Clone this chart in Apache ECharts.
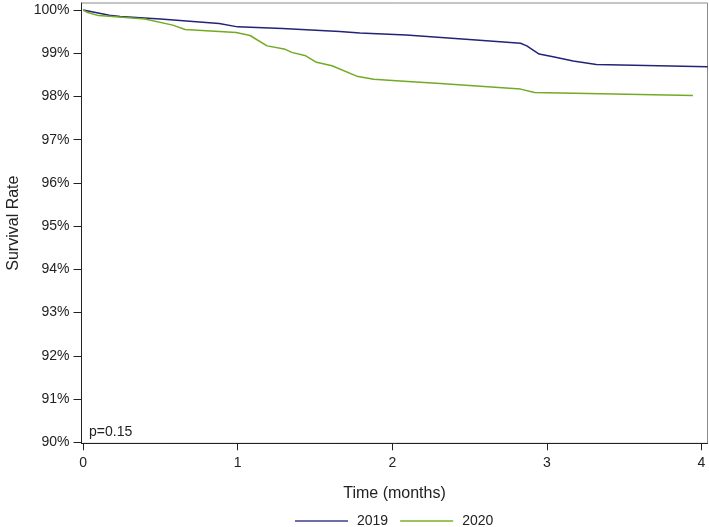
<!DOCTYPE html>
<html>
<head>
<meta charset="utf-8">
<script src="https://cdn.jsdelivr.net/npm/echarts@6/dist/echarts.min.js"></script>
<style>
html,body{margin:0;padding:0;background:#fff;}
#chart{width:709px;height:527px;}
</style>
</head>
<body>
<div id="chart"></div>
<script>
// Time (months)
const t2019 = [0, 0.17, 0.24, 0.5, 0.88, 1.0, 1.29, 1.66, 1.79, 2.09, 2.52, 2.83, 2.87, 2.95, 3.04, 3.17, 3.32, 4.04];
const s2019 = [100, 99.88, 99.85, 99.79, 99.69, 99.61, 99.57, 99.50, 99.47, 99.42, 99.31, 99.23, 99.17, 98.98, 98.92, 98.82, 98.74, 98.69];
const t2020 = [0, 0.03, 0.1, 0.19, 0.4, 0.58, 0.66, 0.99, 1.08, 1.19, 1.3, 1.35, 1.44, 1.51, 1.61, 1.77, 1.88, 2.05, 2.31, 2.83, 2.92, 3.945];
const s2020 = [100, 99.94, 99.87, 99.85, 99.79, 99.65, 99.55, 99.48, 99.41, 99.17, 99.10, 99.02, 98.94, 98.79, 98.71, 98.47, 98.40, 98.36, 98.30, 98.17, 98.09, 98.02];
const xTicks = [0, 1, 2, 3, 4];
const yTicks = [90, 91, 92, 93, 94, 95, 96, 97, 98, 99, 100];
const seriesNames = ['2019', '2020'];
const pValueText = 'p=0.15';

const FONT = '"Liberation Sans", Arial, sans-serif';
const lineColors = ['#232378', '#72ab22'];
const legendColors = ['#6e6eaa', '#9cc35c'];

function pairs(t, s) { return t.map((v, i) => [v, s[i]]); }

const chart = echarts.init(document.getElementById('chart'));
chart.setOption({
  animation: false,
  backgroundColor: '#fff',
  textStyle: { fontFamily: FONT },
  grid: {
    left: 81.5, top: 3, width: 626, height: 440.3,
    outerBoundsMode: 'none', containLabel: false,
    show: true, borderColor: '#8a8a8a', borderWidth: 1, backgroundColor: 'transparent'
  },
  xAxis: {
    type: 'value', min: -0.0103, max: 4.039,
    name: 'Time (months)', nameLocation: 'middle', nameGap: 42,
    nameTextStyle: { fontFamily: FONT, fontSize: 16, color: '#222' },
    axisLine: { show: true, onZero: false, lineStyle: { color: '#222', width: 1 } },
    axisTick: { show: true, length: 7, customValues: xTicks, lineStyle: { color: '#222' } },
    axisLabel: { customValues: xTicks, margin: 13, fontFamily: FONT, fontSize: 14, color: '#222' },
    splitLine: { show: false }
  },
  yAxis: {
    type: 'value', min: 89.977, max: 100.162,
    name: 'Survival Rate', nameLocation: 'middle', nameGap: 60, nameRotate: 90,
    nameTextStyle: { fontFamily: FONT, fontSize: 16, color: '#222' },
    axisLine: { show: true, onZero: false, lineStyle: { color: '#222', width: 1 } },
    axisTick: { show: true, length: 8, customValues: yTicks, lineStyle: { color: '#222' } },
    axisLabel: { customValues: yTicks, margin: 12, fontFamily: FONT, fontSize: 14, color: '#222',
      formatter: v => Math.round(v) + '%' },
    splitLine: { show: false }
  },
  legend: {
    left: 295, top: 514, padding: 0,
    itemWidth: 53, itemHeight: 2, itemGap: 12, icon: 'rect',
    textStyle: { fontFamily: FONT, fontSize: 14, color: '#222', padding: [0, 0, 0, 4] },
    data: seriesNames.map((n, i) => ({ name: n, itemStyle: { color: legendColors[i] } }))
  },
  graphic: [{
    type: 'text', left: 89, top: 425,
    style: { text: pValueText, font: '14px ' + FONT, fill: '#222' }
  }],
  series: [
    { name: seriesNames[0], type: 'line', data: pairs(t2019, s2019), showSymbol: false,
      lineStyle: { color: lineColors[0], width: 1.5 }, itemStyle: { color: lineColors[0] } },
    { name: seriesNames[1], type: 'line', data: pairs(t2020, s2020), showSymbol: false,
      lineStyle: { color: lineColors[1], width: 1.5 }, itemStyle: { color: lineColors[1] } }
  ]
});
</script>
</body>
</html>
